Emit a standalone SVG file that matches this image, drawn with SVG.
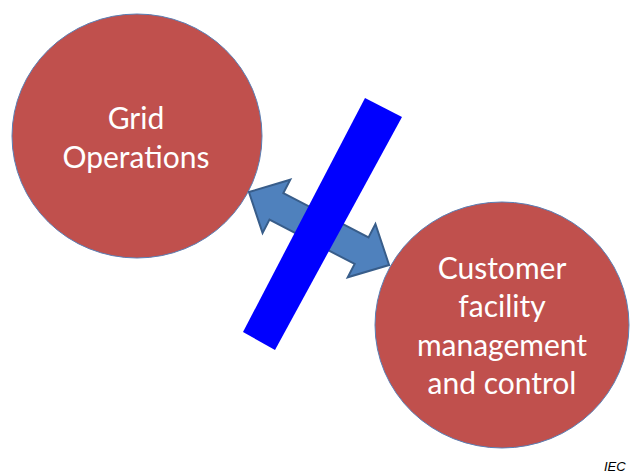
<svg xmlns="http://www.w3.org/2000/svg" width="631" height="473" viewBox="0 0 631 473">
  <style>
    .node { fill: #c0504d; stroke: #5a7fb5; stroke-width: 1; }
    .label { fill: #ffffff; font-family: Lato, "Open Sans", sans-serif; font-size: 30px; text-anchor: middle; }
    .link { fill: #4f81bd; stroke: #385d8a; stroke-width: 2; stroke-linejoin: miter; }
    .barrier { fill: #0000ff; }
    .mark { fill: #000000; font-family: "Liberation Sans", Arial, sans-serif; font-size: 13px; font-style: italic; }
  </style>
  <rect width="631" height="473" fill="#ffffff"/>

  <g id="grid-operations">
    <ellipse class="node" cx="137" cy="136" rx="125" ry="122"/>
    <text class="label" x="136" y="129">Grid</text>
    <text class="label" x="136" y="168">Operations</text>
  </g>

  <g id="customer-facility">
    <ellipse class="node" cx="502" cy="325" rx="127" ry="123"/>
    <text class="label" x="502" y="279">Customer</text>
    <text class="label" x="502" y="317">facility</text>
    <text class="label" x="502" y="356">management</text>
    <text class="label" x="502" y="394">and control</text>
  </g>

  <g id="connectors">
    <polygon class="link" transform="translate(319 228.5) rotate(27.5)"
      points="-79,0 -48,-30 -48,-15 48,-15 48,-30 79,0 48,30 48,15 -48,15 -48,30"/>
  </g>

  <g id="barrier">
    <polygon class="barrier" points="365,98 402,117 275,350 243,332"/>
  </g>

  <text class="mark" x="604" y="471">IEC</text>
</svg>
